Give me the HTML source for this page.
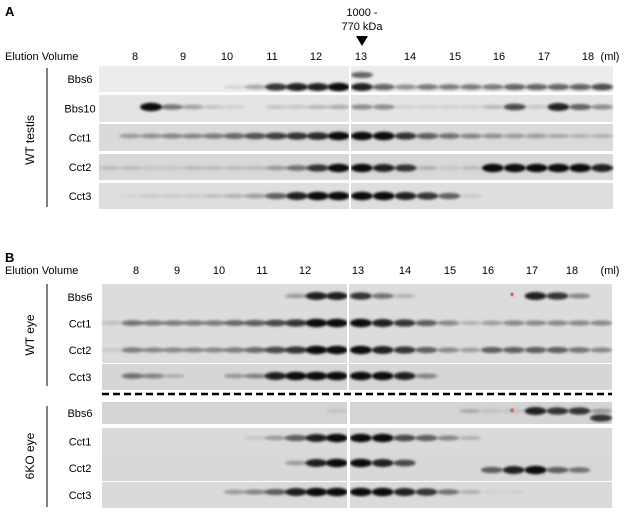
<!DOCTYPE html>
<html><head><meta charset="utf-8"><style>
body{margin:0;background:#fff;width:626px;height:512px;overflow:hidden}
svg text{font-family:"Liberation Sans",sans-serif;font-size:11px;fill:#000}
</style></head><body>
<svg id="s" width="626" height="512" xmlns="http://www.w3.org/2000/svg">
<defs><filter id="b" x="-50%" y="-100%" width="200%" height="300%"><feGaussianBlur stdDeviation="1.4 1.2"/></filter></defs>
<text x="5" y="16" font-weight="bold" style="font-size:13px">A</text>
<text x="362" y="16" text-anchor="middle">1000 -</text>
<text x="362" y="30" text-anchor="middle">770 kDa</text>
<polygon points="356,36 368,36 362,46" fill="#000"/>
<text x="5" y="262" font-weight="bold" style="font-size:13px">B</text>
<line x1="47" y1="68" x2="47" y2="207" stroke="#000"/>
<text transform="translate(34,140) rotate(-90)" text-anchor="middle" style="font-size:12px">WT testis</text>
<line x1="47" y1="284" x2="47" y2="386" stroke="#000"/>
<text transform="translate(34,335) rotate(-90)" text-anchor="middle" style="font-size:12px">WT eye</text>
<line x1="47" y1="406" x2="47" y2="507" stroke="#000"/>
<text transform="translate(34,456) rotate(-90)" text-anchor="middle" style="font-size:12px">6KO eye</text>
<line x1="102" y1="394" x2="612" y2="394" stroke="#000" stroke-width="2.5" stroke-dasharray="7,4"/>
<g id="g"></g>
</svg>
<script>
const NS="http://www.w3.org/2000/svg",g=document.getElementById('g');
function el(t,a,txt){const e=document.createElementNS(NS,t);for(const k in a)e.setAttribute(k,a[k]);if(txt)e.textContent=txt;g.appendChild(e);return e;}
function cols(y,xs){el('text',{x:5,y:y},'Elution Volume');
 ['8','9','10','11','12','13','14','15','16','17','18'].forEach((t,i)=>el('text',{x:xs[i],y:y,'text-anchor':'middle'},t));
 el('text',{x:610,y:y,'text-anchor':'middle'},'(ml)');}
cols(60,[135,183,227,272,316,361,410,455,499,544,588]);
cols(274,[136,177,219,262,305,358,405,450,488,532,572]);
function lanes(l0,l1,r0,r1){const a=[];for(let i=0;i<12;i++)a.push(l0+(l1-l0)*(i+.5)/12);for(let i=0;i<12;i++)a.push(r0+(r1-r0)*(i+.5)/12);return a;}
const LA=lanes(99,349,351,613),LB=lanes(102,347,350,612);
function band(x,y,v,rx){el('ellipse',{cx:x,cy:y,rx:rx||11,ry:1.6+v*2.6,fill:'#000','fill-opacity':Math.min(1,v*0.95),filter:'url(#b)'});}
function row(lbl,y0,y1,by,vals,L,bg,x0,x1){
 el('rect',{x:x0,y:y0,width:x1-x0,height:y1-y0,fill:bg});
 el('text',{x:80,y:(y0+y1)/2+4,'text-anchor':'middle'},lbl);
 vals.forEach((v,i)=>{if(v>0)band(L[i],by,v);});
}
const A=[
['Bbs6',66,92,87,[0,0,0,0,0,0,.1,.3,.8,.9,.9,1,.9,.6,.4,.5,.5,.5,.5,.6,.6,.6,.6,.7],'#ececec'],
['Bbs10',95,122,107,[0,0,1,.5,.3,.15,.1,0,.15,.15,.2,.25,.4,.4,.1,.1,.1,.1,.2,.7,.15,.9,.6,.4],'#e4e4e4'],
['Cct1',124,151,136,[0,.3,.35,.4,.4,.45,.55,.65,.75,.8,.85,1,1,1,.8,.6,.5,.4,.35,.3,.3,.25,.2,.2],'#dadada'],
['Cct2',154,180,168,[.15,.15,.1,.1,.15,.15,.15,.15,.3,.5,.8,1,1,.9,.8,.2,.1,.15,1,1,1,1,1,.9],'#d8d8d8'],
['Cct3',183,209,196,[0,.05,.1,.1,.1,.15,.2,.3,.6,.9,1,1,1,1,.9,.8,.6,.1,0,0,0,0,0,0],'#dedede']];
A.forEach(r=>row(r[0],r[1],r[2],r[3],r[4],LA,r[5],99,613));
const B=[
['Bbs6',284,310,296,[0,0,0,0,0,0,0,0,0,.3,.9,.9,.8,.5,.2,0,0,0,0,0,.9,.8,.4,0],'#dcdcdc'],
['Cct1',310,337,323,[.15,.5,.45,.45,.45,.45,.55,.6,.7,.8,1,1,1,.9,.8,.6,.4,.2,.3,.4,.4,.4,.4,.4],'#dcdcdc'],
['Cct2',337,363,350,[.1,.45,.4,.4,.4,.4,.45,.55,.7,.8,1,1,1,.9,.8,.6,.4,.3,.6,.6,.6,.6,.5,.4],'#dcdcdc'],
['Cct3',364,390,376,[0,.5,.4,.2,0,0,.3,.4,.9,1,1,1,1,1,.9,.4,0,0,0,0,0,0,0,0],'#d6d6d6'],
['Bbs6',402,424,411,[0,0,0,0,0,0,0,0,0,0,0,.1,0,0,0,0,0,.2,.1,.1,.9,.8,.8,.3],'#d4d4d4'],
['Cct1',428,455,438,[0,0,0,0,0,0,0,.1,.3,.6,.9,1,1,1,.7,.6,.4,.2,0,0,0,0,0,0],'#dadada'],
['Cct2',455,481,463,[0,0,0,0,0,0,0,0,0,.3,.9,1,1,.9,.7,0,0,0,0,0,0,0,0,0],'#d8d8d8'],
['Cct3',482,508,492,[0,0,0,0,0,0,.3,.4,.6,.9,1,1,1,1,.9,.8,.5,.2,.05,.05,0,0,0,0],'#dadada']];
B.forEach(r=>row(r[0],r[1],r[2],r[3],r[4],LB,r[5],102,612));
[[18,.6],[19,.9],[20,1],[21,.6],[22,.5]].forEach(([i,v])=>band(LB[i],470,v));
band(LB[23],418,.8);
band(LA[12],75,.6);
el('text',{x:512,y:301,'text-anchor':'middle','style':'fill:#e03020;font-size:13px'},'*');
el('text',{x:512,y:417,'text-anchor':'middle','style':'fill:#e03020;font-size:13px'},'*');
el('rect',{x:349,y:66,width:2,height:143,fill:'#fff'});
el('rect',{x:347,y:284,width:2,height:106,fill:'#fff'});
el('rect',{x:347,y:402,width:3,height:106,fill:'#fff'});
el('line',{x1:102,y1:363.5,x2:612,y2:363.5,stroke:'#fff'});
el('line',{x1:102,y1:481.5,x2:612,y2:481.5,stroke:'#fff'});
el('line',{x1:102,y1:426,x2:612,y2:426,stroke:'#fff','stroke-width':3});
</script>
</body></html>
